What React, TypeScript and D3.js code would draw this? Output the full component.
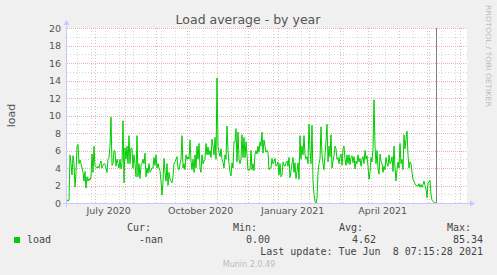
import React from "react";
import * as d3 from "d3";

// Daily load average, one value per day starting at the graph's start (400 days before last update)
const load2020: number[] = [
  0.4, 0.2, 0.3, 5.5, 4.5, 3.2, 5.4, 4.5, 1.8, 3.5, 6.5, 6.7, 4.5, 4.9, 4.5, 4.0, 3.5, 2.5, 3.6, 1.7,
  3.0, 2.5, 2.8, 2.6, 3.0, 5.6, 3.5, 6.5, 4.2, 4.1, 4.0, 4.2, 4.0, 4.5, 4.8, 4.0, 4.3, 4.5, 4.4, 4.0,
  3.5, 5.0, 5.2, 6.5, 9.8, 4.3, 4.5, 6.0, 5.9, 4.2, 5.0, 4.5, 4.0, 5.0, 3.9, 4.5, 9.4, 2.3, 6.3, 5.0,
  6.5, 4.5, 7.7, 4.5, 6.3, 6.2, 4.0, 5.5, 4.5, 3.0, 7.7, 3.0, 4.5, 2.8, 4.3, 4.5, 5.0, 4.5, 5.7, 3.0,
  4.0, 3.4, 4.5, 3.5, 3.7, 4.0, 4.0, 5.2, 4.3, 5.5, 4.0, 4.5, 4.0, 3.7, 2.5, 0.9, 2.5, 5.1, 3.5, 2.5,
  4.5, 2.0, 3.5, 2.8, 2.5, 2.3, 3.0, 4.5, 4.7, 5.0, 5.3, 4.0, 3.8, 4.5, 5.0, 7.7, 4.0, 4.5, 3.8, 5.5,
  5.0, 5.3, 5.0, 7.2, 4.8, 3.8, 5.0, 3.5, 5.5, 4.0, 6.5, 5.0, 6.8, 4.0, 3.5, 5.5, 4.5, 4.8, 5.0, 6.8,
  5.5, 6.4, 5.5, 6.0, 5.2, 7.3, 6.5, 5.5, 7.5, 5.0, 14.3, 6.5, 5.8, 5.3, 6.2, 5.0, 4.7, 4.0, 5.5, 5.0,
  8.8, 6.0, 4.5, 3.5, 3.1, 4.6, 4.0, 7.0, 7.0, 8.5, 4.7, 8.1, 5.0, 4.5, 5.0, 7.8, 5.2, 7.5, 5.2, 7.0,
  5.5, 3.7, 3.8, 3.8, 6.0, 3.8, 4.5, 3.7, 5.6, 6.0, 5.6, 6.5, 5.8, 7.0, 6.5, 8.1, 5.7, 7.2, 6.5, 5.8,
  6.0, 5.8, 3.8, 4.0, 4.0, 5.1, 4.5, 4.7, 5.1, 4.2, 4.3, 4.7, 3.2, 4.5, 3.0, 3.2, 4.7, 4.3, 4.2, 4.6,
  4.8, 4.2, 5.2, 2.9, 3.7, 4.5, 5.2, 3.5, 4.6, 2.8, 3.6, 4.6, 2.7, 7.7, 5.0, 6.5, 5.5, 7.7, 5.5, 5.0,
  5.3, 4.5,
];
const load2021: number[] = [
  9.0, 6.0, 4.5, 8.9, 2.5, 1.0, 0.2, 0.0, 0.5, 3.5, 4.5, 5.0, 8.7, 5.5, 4.5, 3.8, 5.5, 7.0, 9.0, 4.7,
  6.5, 5.3, 7.8, 4.0, 4.8, 5.4, 6.5, 6.2, 5.0, 5.2, 4.5, 5.3, 5.6, 4.3, 6.2, 6.5, 5.0, 4.3, 5.5, 4.5,
  5.5, 4.4, 5.2, 5.4, 4.6, 5.3, 3.9, 4.8, 4.5, 5.5, 4.7, 5.1, 4.2, 5.0, 5.3, 4.5, 6.0, 5.0, 5.4, 4.2,
  2.7, 3.5, 5.2, 4.7, 6.2, 11.8, 6.5, 4.5, 6.0, 4.0, 3.3, 5.6, 4.8, 4.5, 3.5, 4.2, 3.8, 5.2, 4.5, 4.2,
  5.5, 4.5, 4.7, 5.3, 3.6, 6.5, 4.0, 2.5, 3.8, 4.7, 4.0, 6.8, 4.5, 5.0, 3.8, 7.8, 6.2, 7.3, 8.2, 5.5,
  4.0, 4.7, 4.5, 3.5, 2.7, 2.5, 2.2, 2.0, 2.0, 1.9, 2.2, 1.8, 2.1, 1.8, 2.1, 2.5, 2.0, 1.6, 0.6, 2.3,
  2.4, 2.6, 1.0, 0.3, 0.2, 0.1, 0.0, 0.0,
];

const yTicks = [0, 2, 4, 6, 8, 10, 12, 14, 16, 18, 20];
const monthLabels = ["July 2020", "October 2020", "January 2021", "April 2021"];
const monthLabelDates = [Date.UTC(2020, 6, 1), Date.UTC(2020, 9, 1), Date.UTC(2021, 0, 1), Date.UTC(2021, 3, 1)];
const legendHeaders = ["Cur:", "Min:", "Avg:", "Max:"];
const legendValues = ["-nan", "0.00", "4.62", "85.34"];
const seriesName = "load";
const lastUpdate = "Last update: Tue Jun  8 07:15:28 2021";

const END = Date.UTC(2021, 5, 8, 7, 15, 28);
const START = END - 400 * 86400000;
const MINOR_START = Date.UTC(2020, 4, 14);

const W = 497, H = 275;
const X0 = 67, X1 = 467, Y0 = 203, Y1 = 28;

export default function App() {
  const x = d3.scaleUtc().domain([new Date(START), new Date(END)]).range([X0, X1]);
  const y = d3.scaleLinear().domain([0, 20]).range([Y0, Y1]);
  const values = [...load2020, ...load2021];
  const data = values.map((v, i) => ({ d: d3.utcDay.offset(new Date(START), i), v }));
  const line = d3.line<{ d: Date; v: number }>().x((p) => x(p.d)).y((p) => y(p.v));

  const months = d3.utcMonth.range(new Date(START), new Date(END));
  const minors: Date[] = d3.range(0, 40).map((k) => d3.utcDay.offset(new Date(MINOR_START), 14 * k)).filter((d) => +d < END);
  const yMinor = d3.range(1, 20, 2);
  const px = (v: number) => Math.round(v) + 0.5;

  const sans = "'DejaVu Sans', sans-serif";
  const mono = "'DejaVu Sans Mono', monospace";
  const headerEnds = [151, 257, 363, 471];
  const valueEnds = [163, 270, 376, 483];
  const minorColor = "#d6d6d6";
  const majorColor = "#ecb2b2";

  return (
    <svg width={W} height={H} style={{ position: "absolute", left: 0, top: 0, background: "#f0f0f0" }}>
      <rect x={0} y={0} width={W} height={H} fill="#f0f0f0" />
      <rect x={X0} y={Y1} width={X1 - X0} height={Y0 - Y1} fill="#ffffff" />
      {/* minor grid */}
      {yMinor.map((t) => (
        <line key={"ym" + t} x1={X0} x2={X1} y1={px(y(t))} y2={px(y(t))} stroke={minorColor} strokeDasharray="1,2" />
      ))}
      {minors.map((d, i) => (
        <line key={"xm" + i} x1={px(x(d))} x2={px(x(d))} y1={Y1} y2={Y0} stroke={minorColor} strokeDasharray="1,2" />
      ))}
      {/* major grid */}
      {yTicks.map((t) => (
        <line key={"yM" + t} x1={X0} x2={X1} y1={px(y(t))} y2={px(y(t))} stroke={majorColor} strokeDasharray="1,1" />
      ))}
      {months.map((d, i) => (
        <line key={"xM" + i} x1={px(x(d))} x2={px(x(d))} y1={Y1} y2={Y0} stroke={majorColor} strokeDasharray="1,2" />
      ))}
      {/* data */}
      <path d={line(data) || ""} fill="none" stroke="#00cc00" strokeWidth={1} />
      {/* vertical rule */}
      <line x1={436.5} x2={436.5} y1={Y1} y2={Y0} stroke="#808080" />
      {/* axes */}
      <line x1={X0 - 0.5} x2={X0 - 0.5} y1={Y0 + 4} y2={Y1 - 5} stroke="#c8c8ff" />
      <line x1={X0 - 4} x2={X1 + 5} y1={Y0 + 0.5} y2={Y0 + 0.5} stroke="#c8c8ff" />
      <path d={`M${X0 - 3.5},${Y1 - 3} L${X0 - 0.5},${Y1 - 8} L${X0 + 2.5},${Y1 - 3} Z`} fill="#c8c8ff" />
      <path d={`M${X1 + 3},${Y0 - 2.5} L${X1 + 8},${Y0 + 0.5} L${X1 + 3},${Y0 + 3.5} Z`} fill="#c8c8ff" />
      {/* y tick labels */}
      {yTicks.map((t) => (
        <text key={"yl" + t} x={61} y={y(t) + 3.5} textAnchor="end" fontFamily={sans} fontSize={9.5} fill="#555">
          {t}
        </text>
      ))}
      {/* x labels */}
      {monthLabels.map((lab, i) => (
        <text key={lab} x={x(new Date(monthLabelDates[i])) - 16} y={214} textAnchor="middle" fontFamily={sans} fontSize={9.5} fill="#555">
          {lab}
        </text>
      ))}
      {/* title */}
      <text x={248} y={24} textAnchor="middle" fontFamily={sans} fontSize={12.5} fill="#555">
        Load average - by year
      </text>
      <text transform="translate(15,115.5) rotate(-90)" textAnchor="middle" fontFamily={sans} fontSize={11} fill="#555">
        load
      </text>
      <text transform="translate(486,5) rotate(90)" fontFamily={sans} fontSize={7} fill="#bbbbbb" textLength={102} lengthAdjust="spacingAndGlyphs">
        RRDTOOL / TOBI OETIKER
      </text>
      {/* legend */}
      <rect x={14} y={237} width={6} height={6} fill="#00cc00" />
      <text x={27} y={243} fontFamily={mono} fontSize={10} fill="#444">{seriesName}</text>
      {legendHeaders.map((h, i) => (
        <text key={h} x={headerEnds[i]} y={231} textAnchor="end" fontFamily={mono} fontSize={10} fill="#444">{h}</text>
      ))}
      {legendValues.map((v, i) => (
        <text key={"lv" + i} x={valueEnds[i]} y={243} textAnchor="end" fontFamily={mono} fontSize={10} fill="#444">{v}</text>
      ))}
      <text x={483} y={255} textAnchor="end" fontFamily={mono} fontSize={10} fill="#444" style={{ whiteSpace: "pre" }}>
        {lastUpdate}
      </text>
      <text x={249} y={267} textAnchor="middle" fontFamily={sans} fontSize={8} fill="#bbbbbb">
        Munin 2.0.49
      </text>
    </svg>
  );
}
